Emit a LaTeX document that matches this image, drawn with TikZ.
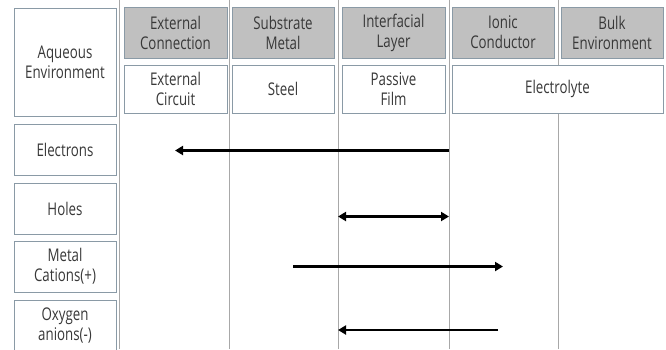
\documentclass[tikz,border=0pt]{standalone}
\usepackage{fontspec}
\setmainfont[FakeStretch=0.76]{Open Sans}
\usetikzlibrary{arrows.meta}
\definecolor{boxline}{HTML}{8A9AA6}
\definecolor{headfill}{HTML}{C0C0C0}
\definecolor{divider}{HTML}{A8A8A8}
\definecolor{txt}{HTML}{383838}
\tikzset{
  cell/.style={draw=boxline, line width=0.8pt, fill=white, align=center,
    text=txt, font=\fontsize{17.5}{20}\selectfont, inner sep=1pt},
  headcell/.style={cell, fill=headfill, minimum width=103pt, minimum height=51pt},
  bodycell/.style={cell, minimum height=48pt},
  rowcell/.style={cell, minimum width=102pt, minimum height=51pt},
  divline/.style={draw=divider, line width=0.8pt},
  flow/.style={line width=2.4pt, -{Triangle[length=8pt,width=9pt]}},
  flowboth/.style={line width=2.4pt, {Triangle[length=8pt,width=9pt]}-{Triangle[length=8pt,width=9pt]}}
}
\begin{document}
\begin{tikzpicture}[x=1pt,y=-1pt]
\useasboundingbox (0,0) rectangle (666,349);
\clip (0,0) rectangle (666,349);
% column dividers
\foreach \xx in {119,229,338,449,558}
  \draw[divline] (\xx,0) -- (\xx,349);
% row labels
\node[cell, minimum width=102pt, minimum height=108pt] (aq) at (65,62) {Aqueous\\Environment};
\node[rowcell] (el) at (65,149.5) {Electrons};
\node[rowcell] (ho) at (65,208.5) {Holes};
\node[rowcell] (mc) at (65,266.5) {Metal\\Cations(+)};
\node[rowcell] (ox) at (65,326) {Oxygen\\anions(-)};
% column headers
\node[headcell] (h1) at (175.5,32.5) {External\\Connection};
\node[headcell, minimum width=102pt] (h2) at (283,32.5) {Substrate\\Metal};
\node[headcell] (h3) at (393.5,32.5) {Interfacial\\Layer};
\node[headcell, minimum width=102pt] (h4) at (503,32.5) {Ionic\\Conductor};
\node[headcell, minimum width=102pt] (h5) at (612,32.5) {Bulk\\Environment};
% materials
\node[bodycell, minimum width=103pt] (b1) at (175.5,89) {External\\Circuit};
\node[bodycell, minimum width=102pt] (b2) at (283,89) {Steel};
\node[bodycell, minimum width=103pt] (b3) at (393.5,89) {Passive\\Film};
\node[bodycell, minimum width=211pt] (b4) at (557.5,89) {Electrolyte};
% transport arrows
\coordinate (e1) at (449,150.5);
\coordinate (e2) at (175,150.5);
\coordinate (p1) at (338,216.5);
\coordinate (p2) at (449,216.5);
\coordinate (m1) at (293,266.5);
\coordinate (m2) at (503,266.5);
\coordinate (o1) at (498,330);
\coordinate (o2) at (338,330);
\draw[flow] (e1) -- (e2);
\draw[flowboth] (p1) -- (p2);
\draw[flow] (m1) -- (m2);
\draw[flow] (o1) -- (o2);
\end{tikzpicture}
\end{document}
